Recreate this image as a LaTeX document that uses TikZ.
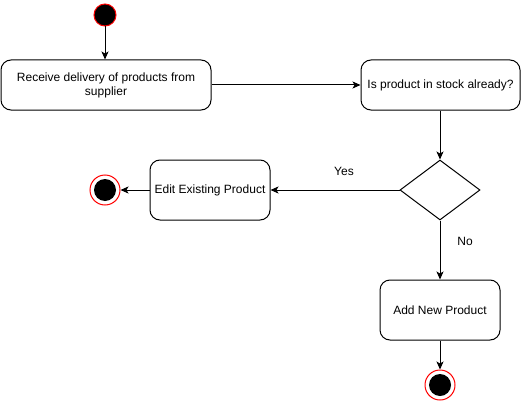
\documentclass[tikz,border=0pt]{standalone}
\usepackage{fontspec}
\setmainfont{Liberation Sans}
\usetikzlibrary{arrows.meta,shapes.geometric}
\definecolor{endred}{RGB}{255,0,0}
\begin{document}
\begin{tikzpicture}[x=1pt,y=-1pt,
  every node/.style={font=\fontsize{12}{14}\selectfont},
  actbox/.style={draw,line width=1pt,rounded corners=10pt,fill=white,inner sep=0pt,align=center},
  decbox/.style={draw,line width=1pt,diamond,fill=white,inner sep=0pt,minimum width=80pt,minimum height=60pt},
  startnode/.style={circle,fill=black,draw=endred,line width=1pt,minimum size=22pt,inner sep=0pt},
  endouter/.style={circle,draw=endred,fill=white,line width=1pt,minimum size=30pt,inner sep=0pt},
  endinner/.style={circle,fill=black,minimum size=22pt,inner sep=0pt},
  flow/.style={draw,line width=1pt,-{Stealth[length=8pt,width=7pt,inset=2pt]}},
  lbl/.style={inner sep=0pt}
]
\useasboundingbox (0,0) rectangle (521,401);
\node[startnode] (start) at (105,15) {};
\node[actbox,minimum width=210pt,minimum height=50pt] (recv) at (106,85) {Receive delivery of products from\\supplier};
\node[actbox,minimum width=159pt,minimum height=50pt] (stock) at (440.5,85) {Is product in stock already?};
\node[decbox] (dec) at (440,190) {};
\node[actbox,minimum width=120pt,minimum height=60pt] (edit) at (210,190) {Edit Existing Product};
\node[actbox,minimum width=120pt,minimum height=60pt] (add) at (440,310) {Add New Product};
\node[endouter] (end1) at (105,190) {};
\node[endinner] (end1i) at (105,190) {};
\node[endouter] (end2) at (440,385) {};
\node[endinner] (end2i) at (440,385) {};
\draw[flow] (start) -- (recv.north -| start);
\draw[flow] (recv) -- (stock);
\draw[flow] (stock.south -| dec) -- (dec.north);
\draw[flow] (dec.west) -- (edit.east);
\draw[flow] (edit.west) -- (end1.east);
\draw[flow] (dec.south) -- (add.north);
\draw[flow] (add.south) -- (end2.north);
\node[lbl] (yes) at (344,171) {Yes};
\node[lbl] (no) at (465,241) {No};
\end{tikzpicture}
\end{document}
